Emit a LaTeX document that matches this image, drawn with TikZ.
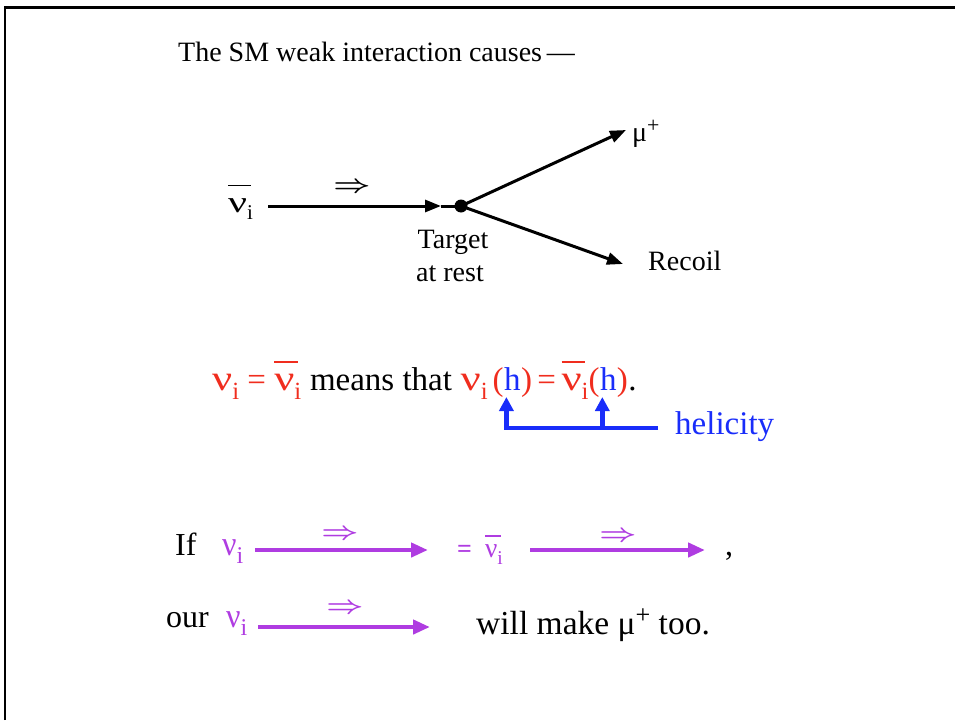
\documentclass[tikz,border=0pt]{standalone}
\usepackage{fontspec}
\setmainfont{Liberation Serif}
\usetikzlibrary{arrows.meta}
\definecolor{nured}{RGB}{240,45,30}
\definecolor{hblue}{RGB}{25,45,250}
\definecolor{nupurple}{RGB}{175,60,225}
\newcommand\sbi{\raisebox{-0.28em}{\scalebox{0.75}{i}}}
% #1 horizontal scale of the nu glyph
\newcommand\nug[1]{\scalebox{#1}[1.08]{ν}}
\newcommand\nui[1]{\nug{#1}\sbi}
% #1 scale, #2 overline height, #3 overline width
\newcommand\nubari[3]{\leavevmode\rlap{\raisebox{#2}{\rule{#3}{0.05em}}}\nug{#1}\sbi}
\newcommand\plusup{\raisebox{0.32em}{\scalebox{0.78}{+}}}
\newcommand\dblarrow{\scalebox{1.3}[1]{\boldmath$\Rightarrow$}}
\begin{document}
\begin{tikzpicture}[x=1pt,y=-1pt,
  txt/.style={inner sep=0pt, anchor=base west, font=\fontsize{28}{32}\selectfont},
  big/.style={inner sep=0pt, anchor=base west, font=\fontsize{33}{38}\selectfont},
  mid/.style={inner sep=0pt, anchor=base west, font=\fontsize{32}{36}\selectfont},
  sml/.style={inner sep=0pt, anchor=base west, font=\fontsize{26}{30}\selectfont},
  dbl/.style={inner sep=0pt, anchor=center, font=\fontsize{28}{32}\selectfont},
  arr/.style={line width=3pt, -{Triangle[length=16pt,width=12pt]}},
  plain/.style={line width=3pt},
  parr/.style={nupurple, line width=4.5pt, -{Triangle[length=17pt,width=14pt]}},
  hline/.style={hblue, line width=4.5pt},
  harr/.style={hblue, line width=4.5pt, -{Triangle[length=14pt,width=14pt]}}]
\useasboundingbox (0,0) rectangle (955,720);
\draw[line width=2.5pt] (5,720) -- (5,7.5) -- (955,7.5);

% title
\node[txt] (title) at (178,61) {The SM weak interaction causes\,—};

% diagram
\node[txt] (nubar) at (228,212) {\nubari{1.5}{0.92em}{0.8em}};
\coordinate (nustart) at (268,206);
\node[circle, fill=black, inner sep=0pt, minimum size=13pt] (dot) at (461,206) {};
\coordinate (tip) at (441,206);
\draw[arr] (nustart) -- (tip);
\draw[plain] (tip) -- (dot.center);
\node[dbl] (hel0) at (352,188) {\dblarrow};
\node[txt] (mu) at (632,141) {μ\plusup};
\coordinate (mutip) at (626,130);
\draw[arr] (dot.center) -- (mutip);
\coordinate (rectip) at (623,264);
\draw[arr] (dot.center) -- (rectip);
\node[txt] (recoil) at (648,270) {Recoil};
\node[txt, anchor=base] (target) at (453,248) {Target};
\node[txt, anchor=base] (atrest) at (450,281) {at rest};

% main line
\node[big, nured] (l1) at (212,390) {\nui{1.35}\ =\ \nubari{1.35}{0.82em}{0.72em}};
\node[big] (l2) at (l1.base east) {\ means that};
\node[big, nured] (l3) at (l2.base east) {\ \nui{1.35}\kern5pt(};
\node[big, hblue] (h1) at (l3.base east) {h};
\node[big, nured] (l4) at (h1.base east) {)\,=\,\nubari{1.35}{0.82em}{0.72em}(};
\node[big, hblue] (h2) at (l4.base east) {h};
\node[big, nured] (l5) at (h2.base east) {)};
\node[big] (l6) at (l5.base east) {.};

% helicity bracket
\node[big, hblue] (hel) at (675,434) {helicity};
\coordinate (hend) at (658,428);
\coordinate (hc1) at ([xshift=2.5pt]h1.base west |- hend);
\coordinate (hc2) at ([xshift=2.5pt]h2.base west |- hend);
\draw[hline] (hend) -- ([xshift=-2.2pt]hc1);
\draw[harr] (hc1) -- ([xshift=2.5pt,yshift=-7pt]h1.base west);
\draw[harr] (hc2) -- ([xshift=2.5pt,yshift=-7pt]h2.base west);

% row 1
\node[mid] (if) at (175,555) {If};
\node[mid, nupurple] (nu1) at (222,555) {\nui{1.0}};
\coordinate (a1s) at (255,550);
\coordinate (a1e) at (428,550);
\draw[parr] (a1s) -- (a1e);
\node[dbl, nupurple] (d1) at (340,535) {\dblarrow};
\node[sml, nupurple] (eq) at (457,557) {\textbf{=}\ \ \nubari{1.05}{0.78em}{0.6em}};
\coordinate (a2s) at (530,550);
\coordinate (a2e) at (705,550);
\draw[parr] (a2s) -- (a2e);
\node[dbl, nupurple] (d2) at (618,537) {\dblarrow};
\node[mid] (comma) at (725,555) {,};

% row 2
\node[mid] (our) at (166,627) {our};
\node[mid, nupurple] (nu2) at (226,627) {\nui{1.0}};
\coordinate (a3s) at (258,627);
\coordinate (a3e) at (430,627);
\draw[parr] (a3s) -- (a3e);
\node[dbl, nupurple] (d3) at (345,609) {\dblarrow};
\node[mid, font=\fontsize{33.5}{38}\selectfont] (make) at (476,634) {will make μ\plusup\ too.};
\end{tikzpicture}
\end{document}
